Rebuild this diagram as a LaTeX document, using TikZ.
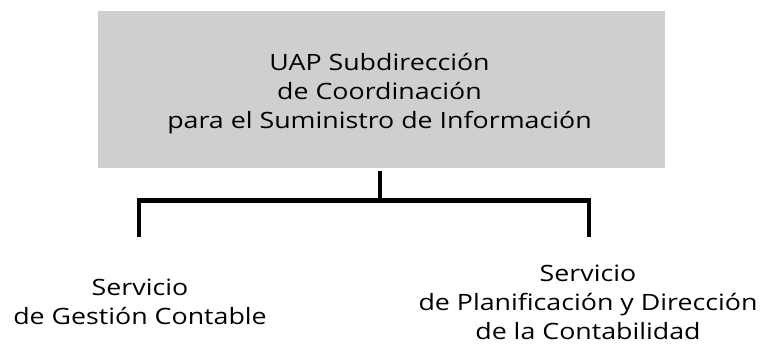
\documentclass[tikz,border=0pt]{standalone}
\usepackage{fontspec}
\setmainfont[FakeStretch=1.19]{Open Sans}
\definecolor{boxgray}{RGB}{208,207,208}
\tikzset{
  topbox/.style={fill=boxgray, draw=none, minimum width=567pt, minimum height=157pt, inner sep=0pt},
  lbl/.style={inner sep=0pt, align=center, anchor=base, font=\fontsize{22.5}{29}\selectfont},
  conn/.style={line width=4.5pt, line join=miter, line cap=butt}
}
\begin{document}
\begin{tikzpicture}[x=1pt,y=-1pt]
\useasboundingbox (0,0) rectangle (767,343);
\node[topbox] (top) at (381.5,89.5) {};
\node[lbl] (toptext) at (379.5,128) {UAP Subdirección\\de Coordinación\\para el Suministro de Información};
\coordinate (vs) at (380,171);
\coordinate (j) at (380,200.5);
\coordinate (l) at (139,237);
\coordinate (r) at (589,237);
\draw[conn] (vs) -- (j);
\draw[conn] (l) -- (l|-j) -- (r|-j) -- (r);
\node[lbl] (s1) at (140,324) {Servicio\\de Gestión Contable};
\node[lbl] (s2) at (588,339) {Servicio\\de Planificación y Dirección\\de la Contabilidad};
\end{tikzpicture}
\end{document}
